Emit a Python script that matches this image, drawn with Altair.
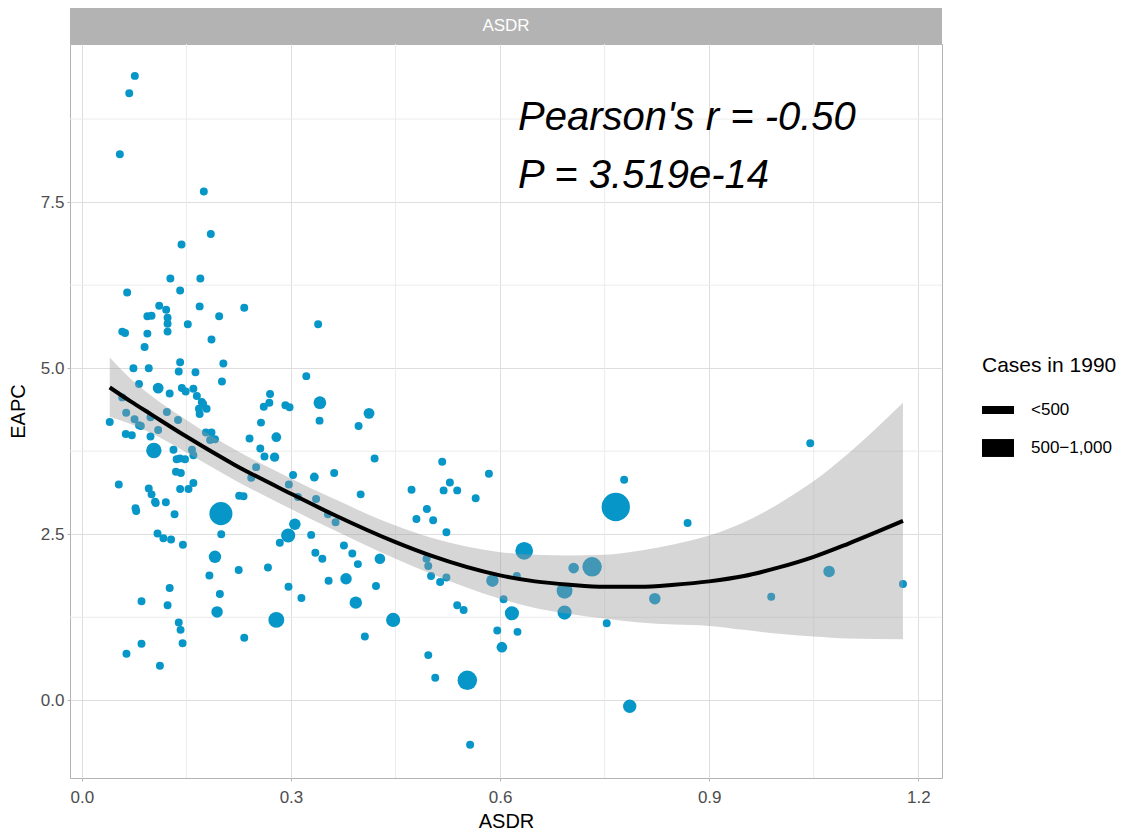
import altair as alt
import pandas as pd
import numpy as np

asdr = [0.076,0.068,0.0545,0.175,0.185,0.143,0.127,0.170,0.065,0.141,
        0.111,0.121,0.169,0.233,0.094,0.100,0.123,0.123,0.197,0.152,
        0.339,0.058,0.062,0.094,0.123,0.186,0.090,0.074,0.096,0.141,
        0.139,0.163,0.203,0.201,0.322,0.082,0.1095,0.126,0.1435,0.149,
        0.160,0.165,0.172,0.174,0.168,0.169,0.179,0.270,0.269,0.261,
        0.292,0.298,0.3415,0.341,0.412,0.397,0.040,0.058,0.0636,0.0756,
        0.082,0.0846,0.063,0.0717,0.0985,0.0985,0.1095,0.122,0.138,0.1033,
        0.1315,0.136,0.1406,0.148,0.158,0.160,0.178,0.186,0.191,0.184,
        0.135,0.142,0.053,0.096,0.100,0.105,0.106,0.1205,0.141,0.153,
        0.160,0.077,0.078,0.133,0.1995,0.200,0.2406,0.279,0.256,0.262,
        0.2765,0.250,0.243,0.2257,0.232,0.303,0.297,0.310,0.3335,0.362,
        0.336,0.353,0.364,0.400,0.3056,0.296,0.284,0.329,0.335,0.345,
        0.376,0.388,0.396,0.379,0.393,0.406,0.354,0.315,0.2965,0.267,
        0.225,0.191,0.183,0.198,0.194,0.279,0.233,0.1086,0.117,0.128,
        0.145,0.126,0.123,0.0856,0.139,0.1416,0.1445,0.064,0.0856,0.112,
        0.420,0.517,0.584,0.528,0.519,0.5385,0.473,0.565,0.495,0.480,
        0.504,0.523,0.4276,0.4945,0.497,0.501,0.514,0.523,0.6346,0.624,
        0.589,0.605,0.617,0.596,0.625,0.6026,0.5385,0.5477,0.4466,0.422,
        0.497,0.507,0.553,0.557,0.7055,0.732,0.6925,0.6925,0.753,0.766,
        0.778,0.786,0.822,0.869,1.045,0.989,1.072,1.178,0.257]

eapc = [9.40,9.14,8.22,7.66,7.02,6.86,6.35,6.35,6.14,6.17,
        5.94,5.88,5.93,5.91,5.78,5.79,5.76,5.67,5.78,5.66,
        5.66,5.55,5.53,5.52,5.55,5.43,5.32,5.00,5.00,5.09,
        4.95,4.94,5.07,4.80,4.88,4.76,4.70,4.62,4.70,4.65,
        4.69,4.58,4.49,4.46,4.39,4.31,4.39,4.61,4.48,4.42,
        4.44,4.41,4.48,4.21,4.32,4.13,4.19,4.56,4.33,4.23,
        4.14,4.13,4.01,3.99,4.26,3.97,4.07,4.34,4.22,3.76,
        3.77,3.63,3.64,3.63,3.77,3.69,4.03,4.03,3.93,3.92,
        3.44,3.42,3.25,3.19,3.10,2.99,2.97,2.98,3.18,3.18,
        3.27,2.89,2.85,2.80,2.81,2.50,3.94,3.96,3.79,3.67,
        3.66,3.51,3.35,3.08,3.07,3.39,3.25,3.06,3.36,3.42,
        3.03,2.80,2.68,3.10,2.65,2.48,2.37,2.49,2.22,2.13,
        2.33,2.21,2.05,1.83,1.47,0.96,1.80,1.54,1.71,2.00,
        1.96,2.16,1.88,1.60,1.33,1.21,0.94,2.51,2.44,2.42,
        2.34,1.69,1.43,1.49,1.17,1.06,0.86,0.70,0.85,0.52,
        3.64,3.59,3.41,3.28,3.16,3.16,3.17,3.04,2.88,2.73,
        2.71,2.53,2.13,2.13,2.02,1.87,1.78,1.85,2.25,1.87,
        1.80,1.52,1.31,1.05,1.03,0.80,1.43,1.36,1.21,1.72,
        0.68,0.34,0.30,-0.67,1.99,2.01,1.65,1.32,1.16,2.91,
        3.32,-0.09,1.53,2.67,3.87,1.56,1.94,1.75,4.18]

cases = [18,18,18,18,18,18,18,18,18,18,
         18,18,18,18,18,18,18,18,18,18,
         18,18,18,18,18,18,18,18,18,18,
         18,18,18,18,18,18,90,18,18,18,
         18,18,18,18,18,18,18,18,18,18,
         18,18,150,18,90,18,18,18,18,18,
         18,18,18,18,18,18,18,18,18,250,
         18,18,18,18,18,18,18,18,18,18,
         18,18,18,18,18,18,18,18,18,18,
         18,18,18,18,640,18,18,60,18,18,
         50,18,18,18,18,18,18,18,40,18,
         18,18,18,18,110,200,18,18,18,18,
         18,18,18,110,140,18,18,18,18,18,
         18,140,18,18,110,270,18,18,18,18,
         18,18,18,18,18,18,18,18,18,18,
         18,18,18,18,18,18,18,18,18,18,
         18,18,84,18,18,18,18,18,350,18,
         140,18,200,18,18,84,18,18,200,18,
         18,18,440,18,84,440,270,200,18,1000,
         18,170,110,18,18,18,110,18,18]

# smooth curve and its 95% confidence band
smooth_x   = [0.04, 0.07, 0.10, 0.15, 0.22, 0.30, 0.36, 0.45, 0.50, 0.60, 0.65,
              0.70, 0.75, 0.80, 0.85, 0.90, 0.95, 1.00, 1.05, 1.10, 1.178]
smooth_fit = [4.71, 4.50, 4.30, 3.97, 3.54, 3.11, 2.80, 2.38, 2.18, 1.88, 1.79,
              1.74, 1.71, 1.71, 1.74, 1.79, 1.87, 2.00, 2.16, 2.36, 2.70]
smooth_hi  = [5.16, 4.84, 4.58, 4.22, 3.77, 3.34, 3.04, 2.63, 2.45, 2.23, 2.19,
              2.18, 2.19, 2.25, 2.35, 2.48, 2.68, 2.96, 3.30, 3.72, 4.48]
smooth_lo  = [4.27, 4.16, 4.02, 3.73, 3.31, 2.88, 2.57, 2.13, 1.91, 1.53, 1.39,
              1.30, 1.23, 1.17, 1.14, 1.12, 1.06, 1.00, 0.96, 0.93, 0.92]

x_ticks = [0.0, 0.3, 0.6, 0.9, 1.2]
y_ticks = [0.0, 2.5, 5.0, 7.5]
x_minor = [0.15, 0.45, 0.75, 1.05]
y_minor = [1.25, 3.75, 6.25, 8.75]
legend_labels = ["<500", "500\u22121,000"]
annot_lines = ["Pearson's r = -0.50", "P = 3.519e-14"]
strip_label = "ASDR"

W, H = 872, 734
XDOM = [-0.017, 1.234]
YDOM = [-1.17, 9.88]

pts = pd.DataFrame({"ASDR": asdr, "EAPC": eapc, "cases": cases})
pts["group"] = np.where(pts["cases"] < 500, legend_labels[0], legend_labels[1])
fit_df = pd.DataFrame({"ASDR": smooth_x, "fit": smooth_fit, "lo": smooth_lo, "hi": smooth_hi})

xsc = alt.Scale(domain=XDOM, nice=False, zero=False)
ysc = alt.Scale(domain=YDOM, nice=False, zero=False)

xaxis = alt.Axis(values=x_ticks, format=".1f", title="ASDR", grid=True, labelPadding=8, titlePadding=6)
yaxis = alt.Axis(values=y_ticks, format=".1f", title="EAPC", grid=True, labelPadding=3, titlePadding=12)

minor_x = alt.Chart(pd.DataFrame({"v": x_minor})).mark_rule(color="#ececec", strokeWidth=1).encode(
    x=alt.X("v:Q", scale=xsc, axis=xaxis))
minor_y = alt.Chart(pd.DataFrame({"v": y_minor})).mark_rule(color="#ececec", strokeWidth=1).encode(
    y=alt.Y("v:Q", scale=ysc, axis=yaxis))

points = alt.Chart(pts).mark_circle(color="#0796c8", opacity=1).encode(
    x=alt.X("ASDR:Q", scale=xsc, axis=xaxis),
    y=alt.Y("EAPC:Q", scale=ysc, axis=yaxis),
    size=alt.Size("cases:Q", scale=alt.Scale(domain=[0, 1000], range=[50, 800]), legend=None),
)

# invisible layer that only provides the "Cases in 1990" key
key = alt.Chart(pts).mark_point(filled=True, opacity=0, size=1, color="black").encode(
    x=alt.X("ASDR:Q", scale=xsc),
    y=alt.Y("EAPC:Q", scale=ysc),
    shape=alt.Shape("group:N",
                    scale=alt.Scale(domain=legend_labels,
                                    range=["M-1,-0.25H1V0.25H-1Z", "M-1,-0.56H1V0.56H-1Z"]),
                    legend=alt.Legend(
                        title="Cases in 1990", orient="none", legendX=912, legendY=311,
                        titleFontSize=21, titleFontWeight="normal", titleColor="black",
                        titlePadding=18, labelFontSize=17, labelColor="black",
                        labelOffset=17, rowPadding=14,
                        symbolSize=1024, symbolFillColor="black", symbolStrokeColor="black",
                        symbolStrokeWidth=0, symbolOpacity=1)),
)

band = alt.Chart(fit_df).mark_area(color="#999999", opacity=0.4, interpolate="monotone").encode(
    x=alt.X("ASDR:Q", scale=xsc), y=alt.Y("lo:Q", scale=ysc), y2="hi:Q")
line = alt.Chart(fit_df).mark_line(color="black", strokeWidth=4, interpolate="monotone").encode(
    x=alt.X("ASDR:Q", scale=xsc), y=alt.Y("fit:Q", scale=ysc))

one = pd.DataFrame({"t": [strip_label]})
strip = alt.Chart(one).mark_rect(color="#b3b3b3", clip=False).encode(
    x=alt.value(0), x2=alt.value(W), y=alt.value(-36), y2=alt.value(0))
strip_text = alt.Chart(one).mark_text(color="white", fontSize=17, clip=False).encode(
    x=alt.value(W / 2), y=alt.value(-18), text="t:N")

ann1 = alt.Chart(pd.DataFrame({"t": [annot_lines[0]]})).mark_text(
    fontSize=40, fontStyle="italic", align="left", baseline="alphabetic", color="black").encode(
    x=alt.value(448), y=alt.value(86), text="t:N")
ann2 = alt.Chart(pd.DataFrame({"t": [annot_lines[1]]})).mark_text(
    fontSize=40, fontStyle="italic", align="left", baseline="alphabetic", color="black").encode(
    x=alt.value(448), y=alt.value(144), text="t:N")

chart = alt.layer(minor_x, minor_y, points, key, band, line, strip, strip_text, ann1, ann2).properties(
    width=W, height=H, padding=0,
).configure(font="Liberation Sans").configure_view(
    stroke="#b3b3b3", strokeWidth=1
).configure_axis(
    gridColor="#dedede", gridWidth=1, domain=False,
    tickColor="#b3b3b3", tickSize=3,
    labelFontSize=17, labelColor="#4d4d4d",
    titleFontSize=20, titleFontWeight="normal", titleColor="black",
)

chart.save("out.html", embed_options={"renderer": "svg", "actions": False})
